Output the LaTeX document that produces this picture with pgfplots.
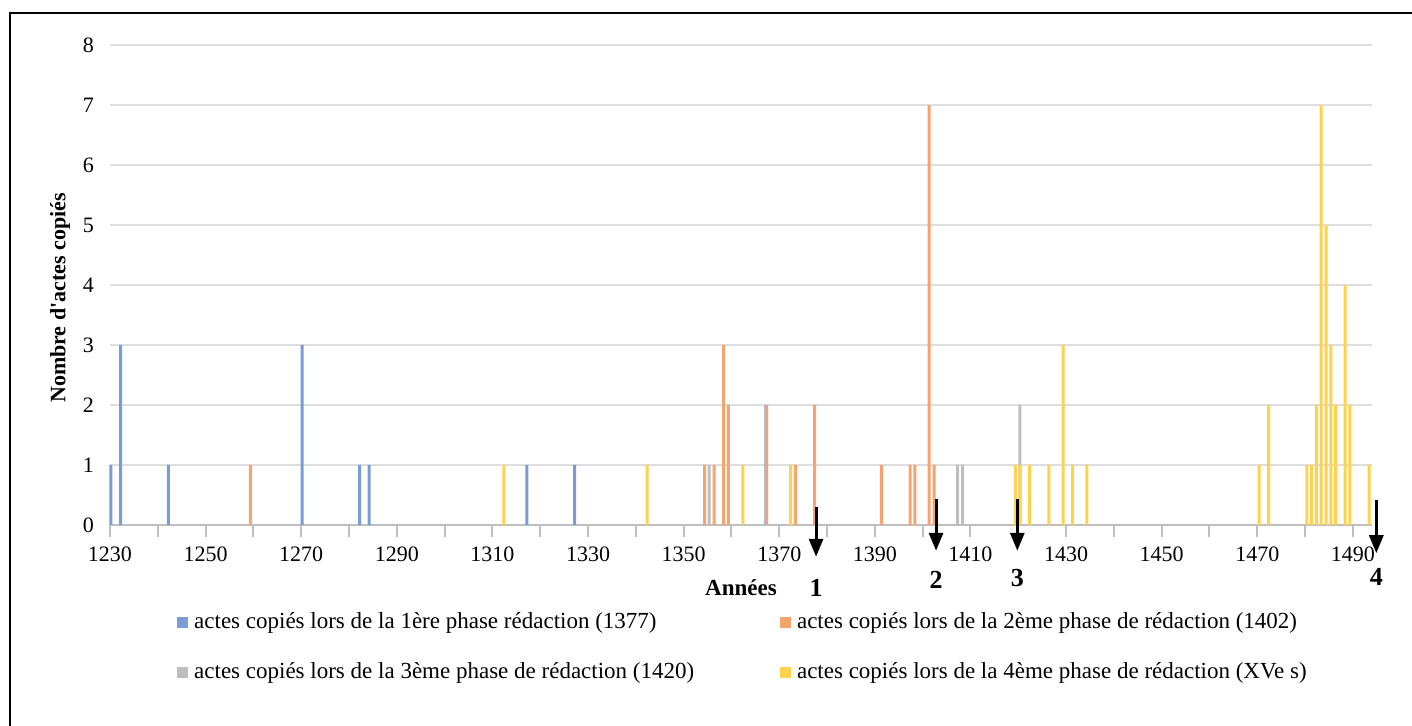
\documentclass[border=0pt]{standalone}
\usepackage{pgfplots}
\pgfplotsset{compat=1.18}
\usepackage{fontspec}
\setmainfont{Liberation Serif}
\usetikzlibrary{arrows.meta}

\definecolor{phaseA}{RGB}{122,155,214}
\definecolor{phaseB}{RGB}{244,164,110}
\definecolor{phaseC}{RGB}{190,190,190}
\definecolor{phaseD}{RGB}{255,210,77}
\definecolor{axisgray}{RGB}{191,191,191}
\definecolor{gridgray}{RGB}{222,222,222}

\begin{document}
\begin{tikzpicture}
\useasboundingbox (0,0) rectangle (706pt,363pt);
% cadre du graphique
\draw[line width=1pt] (5pt,-2pt) -- (5pt,356.5pt) -- (708pt,356.5pt);
\begin{axis}[
  at={(55pt,100.5pt)}, anchor=south west,
  scale only axis,
  width=631pt, height=240pt,
  xmin=1230, xmax=1494,
  ymin=0, ymax=8,
  clip=false,
  axis lines*=left,
  axis line style={-},
  x axis line style={draw=axisgray, line width=1pt},
  y axis line style={draw=none},
  xtick={1230,1250,...,1490},
  minor xtick={1240,1260,...,1480},
  ytick={0,1,...,8},
  tick align=center,
  major tick length=6pt,
  minor tick length=6pt,
  xtick style={draw=axisgray, line width=1pt},
  minor tick style={draw=axisgray, line width=1pt},
  ytick style={draw=none},
  ymajorgrids,
  grid style={gridgray, line width=0.7pt},
  tick label style={font=\fontsize{11}{13}\selectfont},
  /pgf/number format/assume math mode=true,
  /pgf/number format/1000 sep={},
  xticklabel style={yshift=-1.5pt},
  yticklabel style={xshift=-1.5pt},
  xlabel={Années},
  xlabel style={font=\fontsize{11.5}{13}\bfseries\selectfont,
    at={(rel axis cs:0.5,0)}, anchor=center, yshift=-31.4pt},
  ylabel={Nombre d\textquotesingle actes copiés},
  ylabel style={font=\fontsize{11}{13}\bfseries\selectfont,
    at={(rel axis cs:-0.0396,0.473)}, anchor=center},
  ybar, bar width=1.5pt,
  legend columns=2,
  legend cell align=left,
  legend image code/.code={\path[#1] (0pt,-2.7pt) rectangle (5.4pt,2.7pt);},
  legend style={at={(0.0531,-0.256)}, anchor=west, draw=none, fill=none,
    inner sep=0pt, row sep=14.5pt,
    nodes={inner sep=0pt, text height=8pt, text depth=2.5pt,
      font=\fontsize{11.5}{13}\selectfont},
    /tikz/column 1/.style={column sep=3pt},
    /tikz/column 2/.style={column sep=43pt},
    /tikz/column 3/.style={column sep=3pt}},
]
\addplot[fill=phaseA, draw=none, bar shift=0.5pt] coordinates {
(1230,1) (1232,3) (1242,1) (1270,3) (1282,1) (1284,1)
(1317,1) (1327,1) (1367,2)
};
\addlegendentry{actes copiés lors de la 1ère phase rédaction (1377)}
\addplot[fill=phaseB, draw=none, bar shift=0.9pt] coordinates {
(1259,1) (1354,1) (1356,1) (1358,3) (1359,2) (1367,2) (1373,1)
(1377,2) (1391,1) (1397,1) (1398,1) (1401,7) (1402,1)
};
\addlegendentry{actes copiés lors de la 2ème phase de rédaction (1402)}
\addplot[fill=phaseC, draw=none, bar shift=0.8pt] coordinates {
(1355,1) (1407,1) (1408,1) (1420,2)
};
\addlegendentry{actes copiés lors de la 3ème phase de rédaction (1420)}
\addplot[fill=phaseD, draw=none, bar shift=0.9pt] coordinates {
(1312,1) (1342,1) (1362,1) (1372,1) (1419,1) (1420,1) (1422,1)
(1426,1) (1429,3) (1431,1) (1434,1) (1470,1) (1472,2) (1480,1)
(1481,1) (1482,2) (1483,7) (1484,5) (1485,3) (1486,2) (1488,4)
(1489,2) (1493,1)
};
\addlegendentry{actes copiés lors de la 4ème phase de rédaction (XVe s)}

% flèches des phases de rédaction
\draw[line width=1.5pt, -{Triangle[width=7pt,length=9pt]}]
  (axis cs:1377.7,0.30) -- (axis cs:1377.7,-0.53);
\draw[line width=1.5pt, -{Triangle[width=7pt,length=9pt]}]
  (axis cs:1402.8,0.43) -- (axis cs:1402.8,-0.43);
\draw[line width=1.5pt, -{Triangle[width=7pt,length=9pt]}]
  (axis cs:1419.8,0.43) -- (axis cs:1419.8,-0.43);
\draw[line width=1.5pt, -{Triangle[width=7pt,length=9pt]}]
  (axis cs:1494.9,0.42) -- (axis cs:1494.9,-0.47);
\node[font=\fontsize{13}{15}\bfseries\selectfont] at (axis cs:1377.7,-1.05) {1};
\node[font=\fontsize{13}{15}\bfseries\selectfont] at (axis cs:1402.8,-0.92) {2};
\node[font=\fontsize{13}{15}\bfseries\selectfont] at (axis cs:1419.8,-0.88) {3};
\node[font=\fontsize{13}{15}\bfseries\selectfont] at (axis cs:1494.9,-0.87) {4};
\end{axis}
\end{tikzpicture}
\end{document}
